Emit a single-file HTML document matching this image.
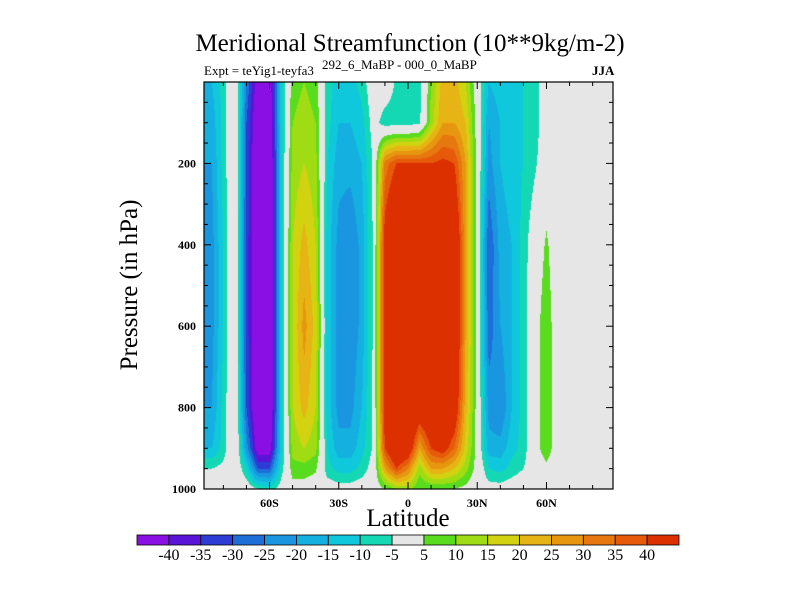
<!DOCTYPE html>
<html><head><meta charset="utf-8">
<style>
body{margin:0;background:#fff;}
#wrap{position:relative;width:800px;height:600px;overflow:hidden;font-family:"Liberation Serif",serif;color:#000;}
.t{position:absolute;white-space:nowrap;}
</style></head>
<body>
<div id="wrap">
<div class="t" style="left:0;width:820px;text-align:center;top:30px;font-size:25px;">Meridional Streamfunction (10**9kg/m-2)</div>
<div class="t" style="left:204px;top:63px;font-size:13px;">Expt = teYig1-teyfa3</div>
<div class="t" style="left:322px;top:57px;font-size:13px;">292_6_MaBP - 000_0_MaBP</div>
<div class="t" style="left:592px;top:63px;font-size:13px;font-weight:bold;">JJA</div>
<div class="t" style="left:130px;top:285px;font-size:25px;transform:translate(-50%,-50%) rotate(-90deg);">Pressure (in hPa)</div>
<div class="t" style="left:408px;top:505px;font-size:25px;transform:translateX(-50%);">Latitude</div>
<canvas id="cv" width="409" height="407" style="position:absolute;left:204px;top:82px;"></canvas>
<svg id="ax" width="800" height="600" style="position:absolute;left:0;top:0;"></svg>
</div>
<script>
const lats=[-90,-85,-80,-75,-70,-65,-60,-55,-50,-45,-40,-35,-30,-25,-20,-15,-10,-5,0,5,10,15,20,25,30,35,40,45,50,55,60,65,70,75,80,85,90];
const levels=[0,100,200,400,600,800,900,950,1000];
const psi=[
[-15,-18,-20,-22,-22,-20,-15,-5,0],
[-15,-18,-20,-22,-22,-20,-15,-5,0],
[-8,-8,-8,-10,-10,-8,-8,-3,0],
[4,4,4,4,4,4,4,2,0],
[-25,-30,-30,-32,-32,-30,-22,-10,0],
[-45,-48,-50,-50,-50,-50,-45,-30,-5],
[-45,-48,-50,-50,-50,-50,-45,-30,-8],
[-12,-12,-12,-12,-12,-12,-12,-8,-2],
[8,10,12,15,15,15,12,8,2],
[10,12,15,22,27,22,15,8,2],
[8,10,12,15,18,15,12,6,1],
[-8,-8,-10,-12,-12,-12,-10,-8,-1],
[-12,-15,-18,-22,-22,-22,-18,-12,-2],
[-12,-15,-18,-25,-25,-22,-18,-12,-2],
[-8,-12,-15,-18,-18,-15,-12,-8,-1],
[0,-2,-4,-4,-4,-4,-4,-2,0],
[0,-8,32,45,45,45,40,25,5],
[-6,-8,40,60,60,60,55,40,10],
[-8,-8,40,60,60,60,50,30,12],
[-8,-6,40,55,55,50,25,12,5],
[10,12,40,60,60,55,40,25,5],
[22,25,42,60,60,55,45,25,5],
[22,25,40,55,55,50,35,20,5],
[15,20,25,25,25,22,18,12,3],
[0,2,2,2,2,2,2,2,0],
[-15,-20,-22,-30,-28,-22,-18,-10,-2],
[-12,-15,-15,-18,-20,-25,-18,-12,-2],
[-12,-12,-12,-15,-15,-15,-12,-8,-1],
[-10,-10,-10,-8,-8,-8,-8,-5,0],
[-8,-8,-6,0,2,2,2,0,0],
[0,0,0,6,9,9,9,3,0],
[0,0,0,0,0,0,0,0,0],
[0,0,0,0,0,0,0,0,0],
[0,0,0,0,0,0,0,0,0],
[0,0,0,0,0,0,0,0,0],
[0,0,0,0,0,0,0,0,0],
[0,0,0,0,0,0,0,0,0]
];
const contourLevels=[-40,-35,-30,-25,-20,-15,-10,-5,5,10,15,20,25,30,35,40];
const colorbarLabels=["-40","-35","-30","-25","-20","-15","-10","-5","5","10","15","20","25","30","35","40"];
const colors=["#8a0fe4","#5a14d8","#2c3cd4","#1e6ed8","#1a96e0","#14b0e0","#10c8dc","#14d8b4","#e6e6e6","#5adc1e","#a0dc14","#d2d210","#e6b414","#e6960f","#e6780f","#e65a0a","#dc3000"];
const yTicks=[200,400,600,800,1000];
const xTickVals=[-60,-30,0,30,60];
const xTickLabels=["60S","30S","0","30N","60N"];

const X0=204,X1=613,Y0=82,Y1=489;
function xs(lat){return 408+lat*2.308;}
function ys(p){return Y0+(p/1000)*(Y1-Y0);}
function latOf(x){return (x-408)/2.308;}
function pOf(y){return (y-Y0)/(Y1-Y0)*1000;}
function idx(arr,v){let i=0;while(i<arr.length-2&&v>arr[i+1])i++;let f=(v-arr[i])/(arr[i+1]-arr[i]);return [i,Math.max(0,Math.min(1,f))];}
function val(lat,p){const [i,fx]=idx(lats,lat);const [j,fy]=idx(levels,p);
 const a=psi[i][j],b=psi[i+1][j],c=psi[i][j+1],d=psi[i+1][j+1];
 return (a*(1-fx)+b*fx)*(1-fy)+(c*(1-fx)+d*fx)*fy;}
function cls(v){let k=0;while(k<contourLevels.length&&v>=contourLevels[k])k++;return k;}
function hex(h){return [parseInt(h.substr(1,2),16),parseInt(h.substr(3,2),16),parseInt(h.substr(5,2),16)];}
const rgb=colors.map(hex);
const cv=document.getElementById('cv');const ctx=cv.getContext('2d');
const img=ctx.createImageData(cv.width,cv.height);
for(let py=0;py<cv.height;py++){const p=pOf(Y0+py+0.5);
 for(let px=0;px<cv.width;px++){const v=val(latOf(X0+px+0.5),p);const c=rgb[cls(v)];const o=(py*cv.width+px)*4;
  img.data[o]=c[0];img.data[o+1]=c[1];img.data[o+2]=c[2];img.data[o+3]=255;}}
ctx.putImageData(img,0,0);

const NS='http://www.w3.org/2000/svg';const svg=document.getElementById('ax');
function mk(tag,at,parent){const e=document.createElementNS(NS,tag);for(const k in at)e.setAttribute(k,at[k]);(parent||svg).appendChild(e);return e;}
let fr=mk('rect',{x:X0,y:Y0,width:X1-X0,height:Y1-Y0,fill:'none',stroke:'#000','stroke-width':1.2});


for(let p=50;p<1000;p+=50){const y=ys(p);const L=(p%200===0)?7:4;
 let t1=mk('line',{x1:X0,y1:y,x2:X0+L,y2:y,stroke:'#000'});
 
 
 let t2=mk('line',{x1:X1,y1:y,x2:X1-L,y2:y,stroke:'#000'});
 
 }
yTicks.forEach(p=>{let t=mk('text',{x:X0-8,y:ys(p)+4,'text-anchor':'end','font-size':12,'font-weight':'bold','font-family':'Liberation Serif, serif'});t.textContent=p;
 
 });
for(let lat=-80;lat<=80;lat+=10){const x=xs(lat);const L=(lat%30===0)?7:4;
 let t1=mk('line',{x1:x,y1:Y1,x2:x,y2:Y1-L,stroke:'#000'});
 
 
 let t2=mk('line',{x1:x,y1:Y0,x2:x,y2:Y0+L,stroke:'#000'});
 
 }
xTickVals.forEach((v,i)=>{let t=mk('text',{x:xs(v),y:Y1+18,'text-anchor':'middle','font-size':12,'font-weight':'bold','font-family':'Liberation Serif, serif'});t.textContent=xTickLabels[i];
 
 });
const CB0=137,CB1=679,CBy=535,CBh=10;const bw=(CB1-CB0)/colors.length;
colors.forEach((c,i)=>{let r=mk('rect',{x:CB0+i*bw,y:CBy,width:bw,height:CBh,fill:c,stroke:'#000','stroke-width':0.8});
 
 });
colorbarLabels.forEach((s,i)=>{let t=mk('text',{x:CB0+(i+1)*bw,y:CBy+25,'text-anchor':'middle','font-size':16,'font-family':'Liberation Serif, serif'});t.textContent=s;
 
 });
</script>
</body></html>
